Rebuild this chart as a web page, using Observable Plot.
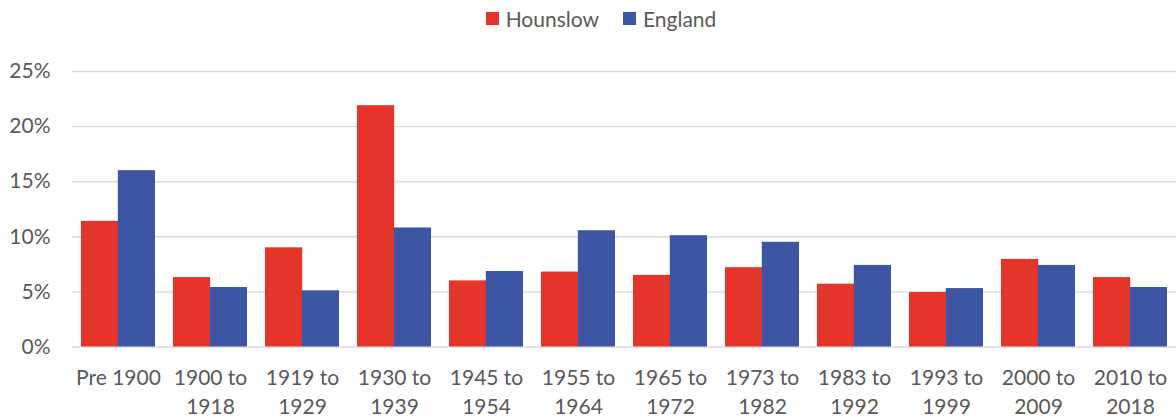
<!DOCTYPE html>
<html><head><meta charset="utf-8">
<script src="https://cdn.jsdelivr.net/npm/d3@7"></script>
<script src="https://cdn.jsdelivr.net/npm/@observablehq/plot@0.6"></script>
<style>
body{margin:0;background:#fff;font-family:Lato,"Open Sans",sans-serif;}
#legend{height:36px;display:flex;justify-content:center;align-items:center;gap:24px;color:#595959;font-size:21px;padding-left:26px;box-sizing:border-box;}
.item{display:flex;align-items:center;gap:7px}
.sw{width:13px;height:13px;display:inline-block}
</style></head><body>
<div id="legend"></div><div id="chart"></div>
<script>
const periods = ["Pre 1900","1900 to 1918","1919 to 1929","1930 to 1939","1945 to 1954","1955 to 1964","1965 to 1972","1973 to 1982","1983 to 1992","1993 to 1999","2000 to 2009","2010 to 2018"];
const hounslow = [11.4, 6.3, 9.0, 21.9, 6.0, 6.8, 6.5, 7.2, 5.7, 4.95, 7.95, 6.3];
const england  = [16.0, 5.4, 5.1, 10.8, 6.85, 10.55, 10.1, 9.5, 7.4, 5.3, 7.4, 5.4];
const seriesNames = ["Hounslow","England"];
const colors = ["#E5352A","#3C56A3"];
const yTicks = [0,5,10,15,20,25];

const W = 1176, ML = 72, MR = 0, PAD_IN = 0.2, PAD_OUT = 0.1;
const half = ((W - ML - MR) / (periods.length)) * (1 - PAD_IN) / 2;

const legend = document.getElementById("legend");
seriesNames.forEach((s,i)=>{
  const it = document.createElement("div"); it.className="item";
  const sw = document.createElement("span"); sw.className="sw"; sw.style.background=colors[i];
  const tx = document.createElement("span"); tx.textContent=s;
  it.append(sw,tx); legend.append(it);
});

const chart = Plot.plot({
  width: W,
  height: 383,
  marginTop: 35,
  marginBottom: 72.5,
  marginLeft: ML,
  marginRight: MR,
  style: {fontFamily: "Lato, 'Open Sans', sans-serif", color:"#595959", background:"#fff"},
  x: {domain: periods, paddingInner: PAD_IN, paddingOuter: PAD_OUT, label: null},
  y: {domain: [0,25], ticks: yTicks, label: null},
  marks: [
    Plot.ruleY(yTicks, {stroke:"#d9d9d9", strokeWidth:1.4}),
    Plot.barY(periods, {x: d=>d, y: (d,i)=>hounslow[i], fill: colors[0], insetRight: half}),
    Plot.barY(periods, {x: d=>d, y: (d,i)=>england[i], fill: colors[1], insetLeft: half}),
    Plot.axisY({ticks: yTicks, tickSize:0, tickPadding:22, tickFormat: d=>d+"%", fontSize:21, fill:"#595959", label:null}),
    Plot.axisX({tickSize:0, tickPadding:17, tickFormat: d=>d.replace(" to ", " to\n"), fontSize:21, lineHeight:1.38, fill:"#595959", label:null})
  ]
});
document.getElementById("chart").append(chart);
</script>
</body></html>
